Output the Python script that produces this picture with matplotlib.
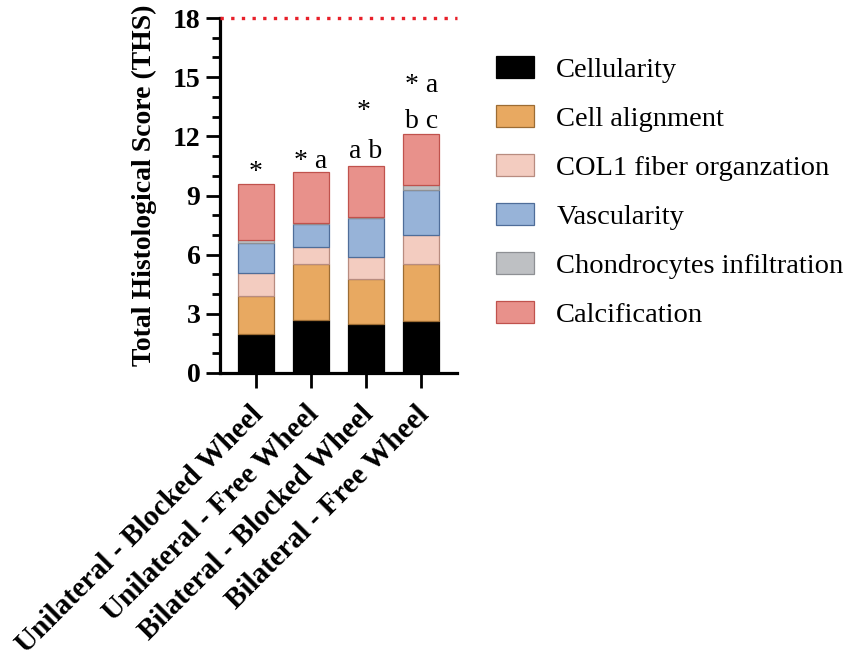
import matplotlib
matplotlib.use("Agg")
import matplotlib.pyplot as plt
import matplotlib.transforms as mtransforms
import numpy as np
from matplotlib.ticker import MultipleLocator

groups = ["Unilateral - Blocked Wheel", "Unilateral - Free Wheel",
          "Bilateral - Blocked Wheel", "Bilateral - Free Wheel"]
components = ["Cellularity", "Cell alignment", "COL1 fiber organzation",
              "Vascularity", "Chondrocytes infiltration", "Calcification"]
cellularity = [2.0, 2.7, 2.5, 2.65]
cell_alignment = [1.9, 2.85, 2.25, 2.9]
col1_fiber = [1.15, 0.85, 1.15, 1.45]
vascularity = [1.55, 1.15, 1.95, 2.3]
chondrocytes = [0.15, 0.05, 0.05, 0.25]
calcification = [2.85, 2.6, 2.6, 2.55]
max_score = 18
annotations = ["*", "* a", "* a", "b c"]
annot_y = [9.85, 10.4, 10.9, 12.42]
annotations2 = ["", "", "a b", "* a"]
annot2_y = [0, 0, 10.9, 14.25]
star3_y = 12.93

series = [cellularity, cell_alignment, col1_fiber, vascularity, chondrocytes, calcification]
faces = ["#000000", "#E8A961", "#F3CCC0", "#97B3D8", "#BEC0C3", "#E8918B"]
edges = ["#000000", "#9C6C34", "#B88C80", "#4F6D99", "#8E9094", "#C0524D"]

plt.rcParams["font.family"] = ["Liberation Serif", "DejaVu Serif"]
fig = plt.figure(figsize=(8.51, 6.61), dpi=100)
W, H = 851, 661
ax = fig.add_axes([220 / W, 1 - 373 / H, 237 / W, 355 / H])

x = np.arange(len(groups))
bottom = np.zeros(len(groups))
handles = []
for vals, name, fc, ec in zip(series, components, faces, edges):
    b = ax.bar(x, vals, width=0.65, bottom=bottom, color=fc, edgecolor=ec,
               linewidth=0.9, label=name)
    handles.append(b)
    bottom += np.array(vals)

ax.set_xlim(-0.65, 3.65)
ax.set_ylim(0, max_score)
ax.axhline(max_score, color="#E8202A", linestyle=(0, (1, 2.2)), linewidth=2.4,
           clip_on=False, zorder=5)

fs_ann = 20
ax.text(x[0], annot_y[0], annotations[0], ha="center", va="baseline", fontsize=fs_ann)
ax.text(x[1], annot_y[1], annotations[1], ha="center", va="baseline", fontsize=fs_ann)
ax.text(x[2], annot2_y[2], annotations2[2], ha="center", va="baseline", fontsize=fs_ann)
ax.text(x[2] - 0.05, star3_y, "*", ha="center", va="baseline", fontsize=fs_ann)
ax.text(x[3], annot_y[3], annotations[3], ha="center", va="baseline", fontsize=fs_ann)
ax.text(x[3], annot2_y[3], annotations2[3], ha="center", va="baseline", fontsize=fs_ann)

for s in ["top", "right"]:
    ax.spines[s].set_visible(False)
for s in ["left", "bottom"]:
    ax.spines[s].set_linewidth(2.3)

ax.yaxis.set_major_locator(MultipleLocator(3))
ax.yaxis.set_minor_locator(MultipleLocator(1))
ax.tick_params(axis="y", which="major", length=10, width=2.0, labelsize=20, pad=4)
ax.tick_params(axis="y", which="minor", length=6, width=2.0)
ax.tick_params(axis="x", which="major", length=11, width=2.0, labelsize=21, pad=9)
for lab in ax.get_yticklabels():
    lab.set_fontweight("bold")

ax.set_xticks(x)
ax.set_xticklabels(groups, rotation=45, ha="right", rotation_mode="anchor",
                   fontweight="bold", fontsize=21)
shift = mtransforms.ScaledTranslation(-6 / 100, 0, fig.dpi_scale_trans)
for lab in ax.get_xticklabels():
    lab.set_transform(lab.get_transform() + shift)

fig.text(144 / W, 1 - 185 / H, "Total Histological Score (THS)", rotation=90,
         ha="center", va="center", fontsize=20, fontweight="bold")

fig.legend(handles=handles, labels=components, loc="upper left",
           bbox_to_anchor=(496 / W, 1 - 56 / H), frameon=False, fontsize=20.5,
           handlelength=1.35, handleheight=0.8, handletextpad=0.77,
           labelspacing=0.78, borderpad=0, borderaxespad=0)

fig.savefig("out.png", dpi=100)
